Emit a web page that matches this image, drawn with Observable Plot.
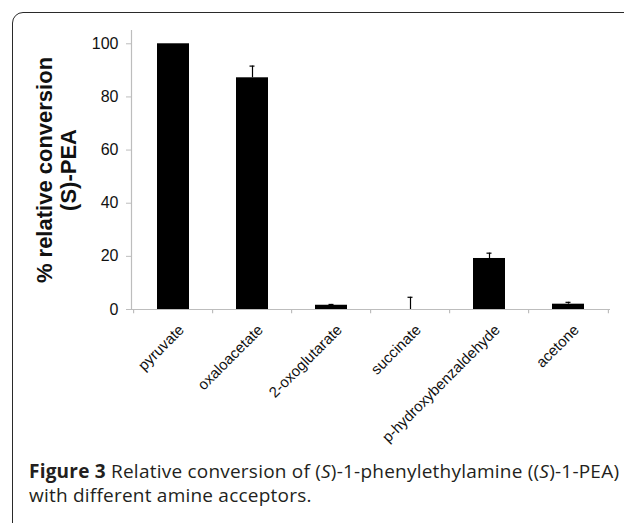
<!DOCTYPE html>
<html>
<head>
<meta charset="utf-8">
<script src="https://cdn.jsdelivr.net/npm/d3@7"></script>
<script src="https://cdn.jsdelivr.net/npm/@observablehq/plot@0.6"></script>
<style>
  html, body { margin: 0; padding: 0; background: #fff; }
  #wrap { position: relative; width: 624px; height: 523px; overflow: hidden; }
  #box { position: absolute; left: 12px; top: 12px; width: 660px; height: 560px;
         border: 1.6px solid #2a2a2a; border-radius: 11px; box-sizing: border-box; }
  #chart { position: absolute; left: 0; top: 0; }
  #caption { position: absolute; left: 29px; top: 459px; width: 620px; white-space: nowrap;
             font-family: "Open Sans", sans-serif; font-size: 19px; line-height: 24px;
             color: #231f20; letter-spacing: 0.22px; }
  #caption b { font-weight: 700; }
</style>
</head>
<body>
<div id="wrap">
  <div id="box"></div>
  <div id="chart"></div>
  <div id="caption"><b>Figure 3</b> Relative conversion of (<i>S</i>)-1-phenylethylamine ((<i>S</i>)-1-PEA)<br>with different amine acceptors.</div>
</div>
<script>
const categories = ["pyruvate", "oxaloacetate", "2-oxoglutarate", "succinate", "p-hydroxybenzaldehyde", "acetone"];
const values = [100, 87.2, 1.6, 0, 19.2, 2.0];
const errors = [0, 4.4, 0.3, 4.6, 2.0, 0.7];
const yTicks = [0, 20, 40, 60, 80, 100];

const data = categories.map((c, i) => ({cat: c, value: values[i], err: errors[i]}));
const errData = data.filter(d => d.err > 0);
// boundaries between categories (Excel-style tick marks)
const boundaries = categories.map(c => ({cat: c, dx: -0.5})).concat([{cat: categories[categories.length - 1], dx: 0.5}]);

const W = 624, H = 440;
const mL = 131, mR = 14, mT = 30, mB = 131;
const step = (W - mL - mR) / categories.length;

const plot = Plot.plot({
  width: W,
  height: H,
  marginLeft: mL,
  marginRight: mR,
  marginTop: mT,
  marginBottom: mB,
  style: {fontFamily: "Liberation Sans, Arial, sans-serif", background: "transparent", overflow: "visible"},
  x: {domain: categories, paddingInner: 0.6, paddingOuter: 0.3, label: null},
  y: {domain: [0, 105], label: null},
  marks: [
    Plot.frame({anchor: "left", stroke: "#bdbdbd", strokeWidth: 1.2}),
    Plot.axisY({ticks: yTicks, tickSize: 5, tickPadding: 8, stroke: "#bdbdbd", fontSize: 16, fill: "#111", label: null}),
    Plot.barY(data, {x: "cat", y: "value", fill: "#000"}),
    Plot.ruleX(errData, {x: "cat", y1: "value", y2: d => d.value + d.err, stroke: "#000", strokeWidth: 1.2}),
    Plot.tickY(errData, {x: "cat", y: d => d.value + d.err, stroke: "#000", strokeWidth: 1.2, inset: 13.5}),
    Plot.ruleY([0], {stroke: "#bdbdbd", strokeWidth: 1.2}),
    Plot.ruleX(boundaries, {x: "cat", y1: 0, y2: -1.6, stroke: "#bdbdbd", strokeWidth: 1.2,
      render: (index, scales, values, dims, ctx, next) => {
        const g = next(index, scales, values, dims, ctx);
        d3.select(g).selectAll("line").each(function(_, j) {
          const i = index[j];
          const x = +this.getAttribute("x1") + boundaries[i].dx * step;
          this.setAttribute("x1", x);
          this.setAttribute("x2", x);
        });
        return g;
      }}),
    Plot.axisX({tickSize: 0, tickRotate: -45, fontSize: 15, fill: "#111", textAnchor: "end", dy: 6, dx: 8, label: null}),
    Plot.text(["% relative conversion"], {frameAnchor: "left", rotate: -90, dx: -87, textAnchor: "middle",
      fontSize: 22, fontWeight: "bold", fill: "#111", text: d => d}),
    Plot.text(["(S)-PEA"], {frameAnchor: "left", rotate: -90, dx: -63, textAnchor: "middle",
      fontSize: 22, fontWeight: "bold", fill: "#111", text: d => d})
  ]
});
document.getElementById("chart").appendChild(plot);
</script>
</body>
</html>
